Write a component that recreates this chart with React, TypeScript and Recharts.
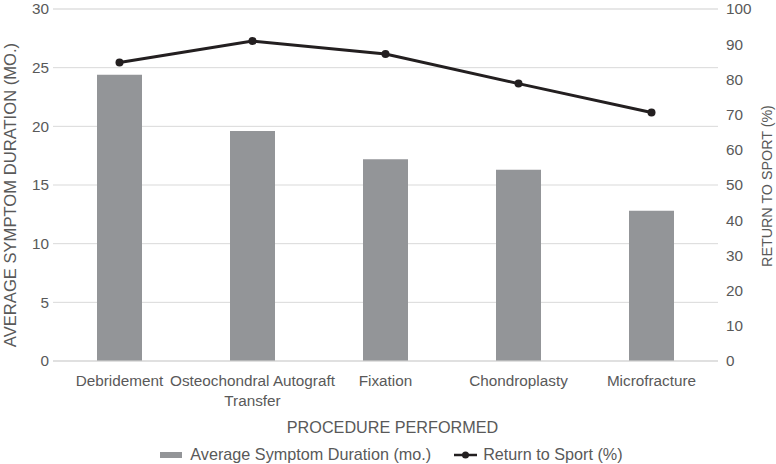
import React from 'react';
import { ComposedChart, Bar, Line, XAxis, YAxis, CartesianGrid, Legend, Text } from 'recharts';

const procedures = ['Debridement', 'Osteochondral Autograft Transfer', 'Fixation', 'Chondroplasty', 'Microfracture'];
const symptomDuration = [24.4, 19.6, 17.2, 16.3, 12.8];
const returnToSport = [84.8, 90.9, 87.2, 78.8, 70.6];

const durationTicks = [0, 5, 10, 15, 20, 25, 30];
const minorTicks = [0, 1, 2, 3, 4, 5, 6, 7, 8, 9, 10, 11, 12, 13, 14, 15, 16, 17, 18, 19, 20, 21, 22, 23, 24, 25, 26, 27, 28, 29, 30];
const sportTicks = [0, 10, 20, 30, 40, 50, 60, 70, 80, 90, 100];

const data = procedures.map((name, i) => ({
  name,
  duration: symptomDuration[i],
  sport: returnToSport[i],
}));

const textColor = '#595959';
const barColor = '#939598';
const lineColor = '#231f20';
const font = '"Liberation Sans", Arial, sans-serif';

const CategoryTick = (props: any) => {
  const { x, y, payload } = props;
  return (
    <Text
      x={x}
      y={y}
      width={178}
      textAnchor="middle"
      verticalAnchor="start"
      lineHeight={20}
      fill={textColor}
      fontSize={15.3}
      fontFamily={font}
    >
      {payload.value}
    </Text>
  );
};

// rotated axis title drawn at a fixed centre inside the axis box
const sideTitle = (text: string, xOffset: number, centreY: number, size: number, fromRight: boolean) =>
  (props: any) => {
    const { viewBox } = props;
    const x = fromRight ? viewBox.x + viewBox.width - xOffset : viewBox.x + xOffset;
    return (
      <text
        x={x}
        y={centreY}
        transform={`rotate(-90, ${x}, ${centreY})`}
        textAnchor="middle"
        dominantBaseline="central"
        fill={textColor}
        fontSize={size}
        fontFamily={font}
      >
        {text}
      </text>
    );
  };

const renderLegend = () => (
  <div
    style={{
      display: 'flex',
      justifyContent: 'center',
      alignItems: 'center',
      height: 23,
      paddingTop: 4,
      paddingLeft: 7,
      boxSizing: 'border-box',
      fontSize: 16.2,
      color: textColor,
      fontFamily: font,
    }}
  >
    <span style={{ display: 'inline-block', width: 22, height: 6, background: barColor, marginRight: 8 }} />
    <span>Average Symptom Duration (mo.)</span>
    <svg width={23} height={10} style={{ marginLeft: 23, marginRight: 6 }}>
      <line x1={0} y1={5} x2={23} y2={5} stroke={lineColor} strokeWidth={2.5} />
      <circle cx={11.5} cy={5} r={3.5} fill={lineColor} />
    </svg>
    <span>Return to Sport (%)</span>
  </div>
);

export default function App() {
  return (
    <div style={{ position: 'absolute', left: 0, top: 0 }}>
      <ComposedChart
        width={776}
        height={464}
        data={data}
        margin={{ top: 9, right: 0, bottom: 0, left: 0 }}
      >
        <CartesianGrid yAxisId="minor" vertical={false} stroke="#ececec" />
        <CartesianGrid yAxisId="left" vertical={false} stroke="#d9d9d9" />
        <XAxis
          dataKey="name"
          height={80}
          interval={0}
          tickLine={false}
          axisLine={{ stroke: '#d9d9d9' }}
          tickMargin={8}
          tick={<CategoryTick />}
          label={{
            value: 'PROCEDURE PERFORMED',
            position: 'insideBottom',
            offset: 8,
            dx: 7,
            fill: textColor,
            fontSize: 16.2,
            fontFamily: font,
          }}
        />
        <YAxis yAxisId="minor" domain={[0, 30]} ticks={minorTicks} hide />
        <YAxis
          yAxisId="left"
          width={53}
          domain={[0, 30]}
          ticks={durationTicks}
          interval={0}
          tickLine={false}
          axisLine={false}
          tickMargin={-2}
          tick={{ fill: textColor, fontSize: 15.3, fontFamily: font }}
          label={{ content: sideTitle('AVERAGE SYMPTOM DURATION (MO.)', 10, 195, 16.6, false) }}
        />
        <YAxis
          yAxisId="right"
          orientation="right"
          width={58}
          domain={[0, 100]}
          ticks={sportTicks}
          interval={0}
          tickLine={false}
          axisLine={false}
          tickMargin={2}
          tick={{ fill: textColor, fontSize: 15.3, fontFamily: font }}
          label={{ content: sideTitle('RETURN TO SPORT (%)', 9, 186, 14.3, true) }}
        />
        <Legend verticalAlign="bottom" height={23} content={renderLegend} />
        <Bar
          yAxisId="left"
          dataKey="duration"
          name="Average Symptom Duration (mo.)"
          fill={barColor}
          barSize={45}
          isAnimationActive={false}
        />
        <Line
          yAxisId="right"
          dataKey="sport"
          name="Return to Sport (%)"
          stroke={lineColor}
          strokeWidth={3}
          dot={{ r: 4, fill: lineColor, stroke: lineColor, strokeWidth: 0 }}
          activeDot={false}
          isAnimationActive={false}
        />
      </ComposedChart>
    </div>
  );
}
